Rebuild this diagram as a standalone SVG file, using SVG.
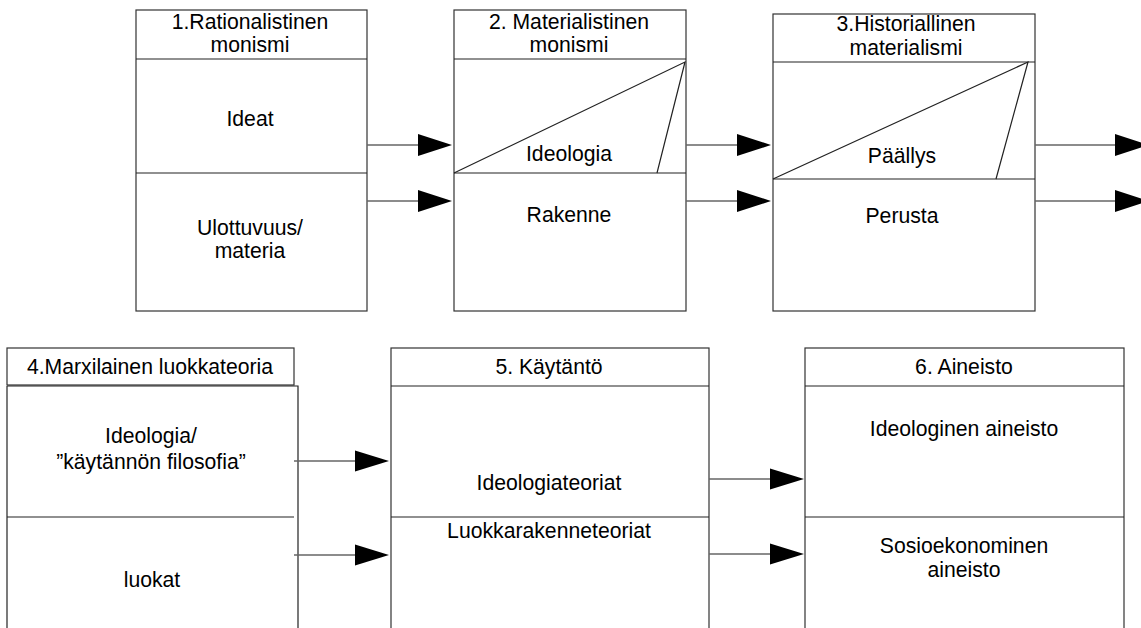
<svg xmlns="http://www.w3.org/2000/svg" width="1141" height="628" viewBox="0 0 1141 628">
<style>
.box{fill:#fff;stroke:#333;stroke-width:1.2}
.ln{fill:none;stroke:#222;stroke-width:1.2}
.conn{fill:none;stroke:#666;stroke-width:1.5}
.head{fill:#000;stroke:none}
text{font-family:"Liberation Sans",Arial,sans-serif;font-size:21.2px;fill:#000;text-anchor:middle}
</style>
<rect width="1141" height="628" fill="#fff"/>
<g id="node1">
<rect class="box" x="136" y="10" width="231" height="301"/>
<line class="ln" x1="136" y1="59" x2="367" y2="59"/>
<line class="ln" x1="136" y1="173" x2="367" y2="173"/>
<text x="250" y="29">1.Rationalistinen</text>
<text x="250" y="52">monismi</text>
<text x="250" y="126">Ideat</text>
<text x="250" y="235">Ulottuvuus/</text>
<text x="250" y="258">materia</text>
</g>
<g id="node2">
<rect class="box" x="454" y="10" width="232" height="301"/>
<line class="ln" x1="454" y1="59" x2="686" y2="59"/>
<line class="ln" x1="454" y1="173" x2="686" y2="173"/>
<polyline class="ln" points="454,173 685,62 657,173"/>
<text x="569" y="29">2. Materialistinen</text>
<text x="569" y="52">monismi</text>
<text x="569" y="161">Ideologia</text>
<text x="569" y="222">Rakenne</text>
</g>
<g id="node3">
<rect class="box" x="773" y="14" width="262" height="297"/>
<line class="ln" x1="773" y1="62" x2="1035" y2="62"/>
<line class="ln" x1="773" y1="179" x2="1035" y2="179"/>
<polyline class="ln" points="773,179 1028,62 996,179"/>
<text x="906" y="31">3.Historiallinen</text>
<text x="906" y="55">materialismi</text>
<text x="902" y="163">Päällys</text>
<text x="902" y="223">Perusta</text>
</g>
<g id="node4">
<rect class="box" x="7" y="348" width="287" height="37"/>
<polyline class="ln" points="7,386 298,386 298,640"/>
<line class="ln" x1="7" y1="386" x2="7" y2="640"/>
<line class="ln" x1="7" y1="517" x2="294" y2="517"/>
<text x="150" y="374">4.Marxilainen luokkateoria</text>
<text x="151" y="443">Ideologia/</text>
<text x="151" y="469">”käytännön filosofia”</text>
<text x="152" y="587">luokat</text>
</g>
<g id="node5">
<rect class="box" x="391" y="348" width="318" height="300"/>
<line class="ln" x1="391" y1="386" x2="709" y2="386"/>
<line class="ln" x1="391" y1="517" x2="709" y2="517"/>
<text x="549" y="374">5. Käytäntö</text>
<text x="549" y="490">Ideologiateoriat</text>
<text x="549" y="538">Luokkarakenneteoriat</text>
</g>
<g id="node6">
<rect class="box" x="805" y="348" width="319" height="300"/>
<line class="ln" x1="805" y1="386" x2="1124" y2="386"/>
<line class="ln" x1="805" y1="517" x2="1124" y2="517"/>
<text x="964" y="374">6. Aineisto</text>
<text x="964" y="436">Ideologinen aineisto</text>
<text x="964" y="553">Sosioekonominen</text>
<text x="964" y="577">aineisto</text>
</g>
<g id="connectors">
<line class="conn" x1="367" y1="145" x2="419" y2="145"/>
<polygon class="head" points="418,134 452,145 418,156"/>
<line class="conn" x1="367" y1="201" x2="419" y2="201"/>
<polygon class="head" points="418,190 452,201 418,212"/>
<line class="conn" x1="686" y1="145" x2="738" y2="145"/>
<polygon class="head" points="737,134 771,145 737,156"/>
<line class="conn" x1="686" y1="201" x2="738" y2="201"/>
<polygon class="head" points="737,190 771,201 737,212"/>
<line class="conn" x1="1035" y1="145" x2="1116" y2="145"/>
<polygon class="head" points="1115,134 1149,145 1115,156"/>
<line class="conn" x1="1035" y1="201" x2="1116" y2="201"/>
<polygon class="head" points="1115,190 1149,201 1115,212"/>
<line class="conn" x1="294" y1="461" x2="356" y2="461"/>
<polygon class="head" points="355,450.5 389,461 355,471.5"/>
<line class="conn" x1="294" y1="555" x2="356" y2="555"/>
<polygon class="head" points="355,544.5 389,555 355,565.5"/>
<line class="conn" x1="709" y1="479" x2="771" y2="479"/>
<polygon class="head" points="770,468.5 804,479 770,489.5"/>
<line class="conn" x1="709" y1="554" x2="771" y2="554"/>
<polygon class="head" points="770,543.5 804,554 770,564.5"/>
</g>
</svg>
